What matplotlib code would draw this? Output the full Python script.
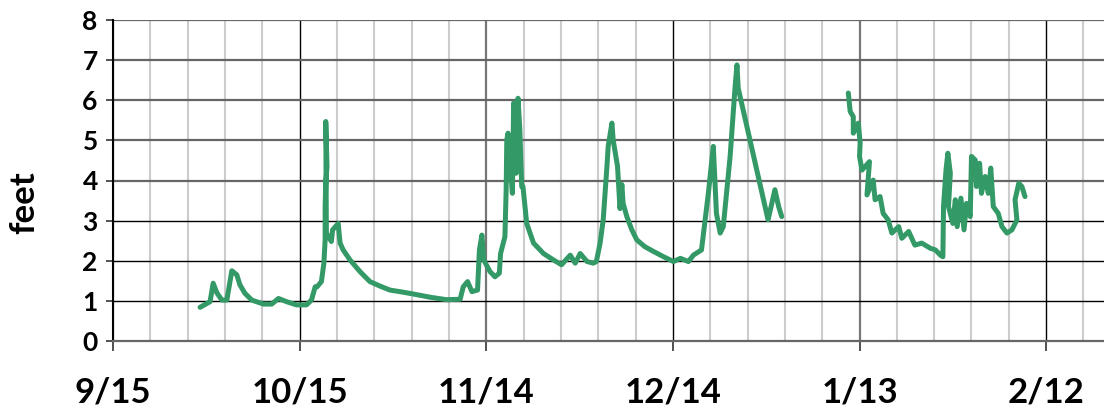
import matplotlib
matplotlib.use("Agg")
import matplotlib.pyplot as plt
from matplotlib.ticker import MultipleLocator

# stage readings, x = days after 9/15
fall_days = [14.0, 15.6, 16.1, 16.7, 17.5, 18.3, 19.1, 19.9, 20.4, 21.2, 22.3, 24.2, 25.5,
             26.6, 27.9, 29.5, 31.1, 31.9, 32.5, 32.8, 33.5, 33.9, 34.1, 34.1, 34.2, 34.4,
             34.2, 34.3, 35.1, 35.3, 36.2, 36.5, 37.0, 38.1, 39.7, 41.3, 42.9, 44.5, 46.5,
             48.3, 51.0, 53.6, 55.8, 56.3, 57.0, 57.7, 58.6, 58.9, 59.3, 59.6, 60.6, 61.4,
             62.1, 62.3, 63.0, 63.2, 63.3, 63.5, 63.8, 64.2, 64.4, 64.8, 65.1, 65.4, 65.7,
             65.9, 66.5, 67.6, 69.2, 70.8, 72.1, 73.5, 74.3, 75.1, 76.2, 77.2, 77.7, 78.3,
             78.8, 79.4, 79.6, 80.2, 80.4, 81.1, 81.5, 81.8, 82.0, 82.6, 83.4, 84.2, 85.5,
             86.9, 88.5, 90.1, 91.2, 92.5, 93.3, 94.6, 95.7, 96.5, 96.7, 97.0, 97.6, 98.1,
             99.2, 100.0, 100.3, 100.5, 105.3, 106.4, 107.0, 107.5]
fall_feet = [0.84, 0.98, 1.44, 1.20, 1.02, 1.02, 1.75, 1.65, 1.40, 1.19, 1.02, 0.92, 0.92,
             1.06, 0.98, 0.90, 0.90, 1.02, 1.35, 1.35, 1.48, 1.94, 2.52, 3.35, 3.93, 4.35,
             5.47, 2.69, 2.48, 2.77, 2.93, 2.44, 2.27, 2.02, 1.73, 1.48, 1.37, 1.27, 1.22,
             1.17, 1.09, 1.03, 1.04, 1.35, 1.48, 1.23, 1.27, 2.27, 2.64, 2.02, 1.73, 1.60,
             1.69, 2.18, 2.60, 3.77, 5.01, 5.18, 4.51, 3.68, 5.93, 4.18, 6.05, 5.26, 3.85,
             3.85, 2.93, 2.44, 2.18, 2.02, 1.90, 2.14, 1.94, 2.18, 1.98, 1.94, 1.98, 2.44,
             3.02, 4.35, 4.85, 5.43, 5.01, 4.35, 3.30, 3.90, 3.43, 3.10, 2.77, 2.52, 2.35,
             2.23, 2.10, 1.98, 2.06, 1.98, 2.14, 2.27, 3.68, 4.85, 4.18, 3.18, 2.69, 2.85,
             4.60, 6.34, 6.88, 6.30, 3.02, 3.77, 3.35, 3.10]

winter_days = [118.2, 118.5, 119.0, 119.0, 119.8, 120.1, 120.0, 120.4, 121.6, 121.2, 122.2,
               122.5, 123.3, 123.8, 124.6, 125.2, 126.3, 126.8, 127.9, 128.9, 130.0, 131.4,
               132.2, 133.0, 133.4, 133.5, 133.9, 134.2, 134.6, 134.3, 135.0, 135.4, 135.7,
               136.3, 136.8, 137.2, 137.8, 138.0, 138.6, 138.8, 139.3, 139.6, 140.2, 140.7,
               141.1, 141.5, 142.3, 142.9, 143.7, 144.5, 145.3, 145.0, 145.6, 146.1, 146.6]
winter_feet = [6.18, 5.72, 5.59, 5.18, 5.43, 4.93, 4.60, 4.26, 4.47, 3.64, 4.01,
               3.52, 3.60, 3.18, 3.02, 2.69, 2.85, 2.56, 2.73, 2.39, 2.44, 2.31,
               2.27, 2.14, 2.10, 3.35, 4.26, 4.68, 4.18, 3.35, 2.93, 3.52, 2.85,
               3.56, 2.77, 3.43, 3.10, 4.60, 4.51, 3.85, 4.43, 3.68, 4.10, 3.68,
               4.31, 3.35, 3.18, 2.85, 2.69, 2.77, 3.02, 3.52, 3.93, 3.85, 3.60]

tick_days = [0, 30, 60, 90, 120, 150]
tick_labels = ["9/15", "10/15", "11/14", "12/14", "1/13", "2/12"]

plt.rcParams['font.family'] = ['Lato', 'DejaVu Sans']

fig = plt.figure(figsize=(11.04, 4.12), dpi=100)
ax = fig.add_axes([113 / 1104, 1 - 341 / 412, 1 - 113 / 1104, (341 - 20) / 412])

line_color = '#339966'
ax.plot(fall_days, fall_feet, color=line_color, lw=3.6, solid_joinstyle='round',
        solid_capstyle='round', zorder=3)
ax.plot(winter_days, winter_feet, color=line_color, lw=3.6, solid_joinstyle='round',
        solid_capstyle='round', zorder=3)

ax.set_xlim(0, 159.3)
ax.set_ylim(0, 8)
ax.set_xticks(tick_days)
ax.set_xticklabels(tick_labels)
ax.xaxis.set_minor_locator(MultipleLocator(6))
ax.set_yticks(range(0, 9))

# grid
ax.grid(which='minor', axis='x', color='#cccccc', lw=1.5, zorder=0)
ax.grid(which='major', axis='x', color='black', lw=1, zorder=1)
ax.grid(which='major', axis='y', color='#444444', lw=1.2, zorder=1)
for i, gl in enumerate(ax.get_xgridlines()):
    if i % 2 == 0:
        gl.set_color('#777777')
        gl.set_linewidth(1.6)
for i, gl in enumerate(ax.get_ygridlines()):
    if i >= 4:
        gl.set_color('#666666')
        gl.set_linewidth(1.6)
    else:
        gl.set_color('black')
        gl.set_linewidth(1)
ax.set_axisbelow(True)

for side in ['top', 'right']:
    ax.spines[side].set_visible(False)
ax.spines['left'].set_color('black')
ax.spines['left'].set_linewidth(1.5)
ax.spines['bottom'].set_color('#666666')
ax.spines['bottom'].set_linewidth(1.6)

ax.tick_params(axis='x', which='major', length=7.5, width=1.2, color='#333333', pad=18,
               labelsize=25)
ax.tick_params(axis='x', which='minor', length=0)
ax.tick_params(axis='y', length=5, width=1.2, color='#333333', pad=6, labelsize=19)
for lab in ax.get_xticklabels() + ax.get_yticklabels():
    lab.set_fontweight('bold')

fig.text(24 / 1104, 1 - 203 / 412, 'feet', rotation=90, fontsize=25, fontweight='bold',
         ha='center', va='center')

fig.savefig('out.png', dpi=100)
